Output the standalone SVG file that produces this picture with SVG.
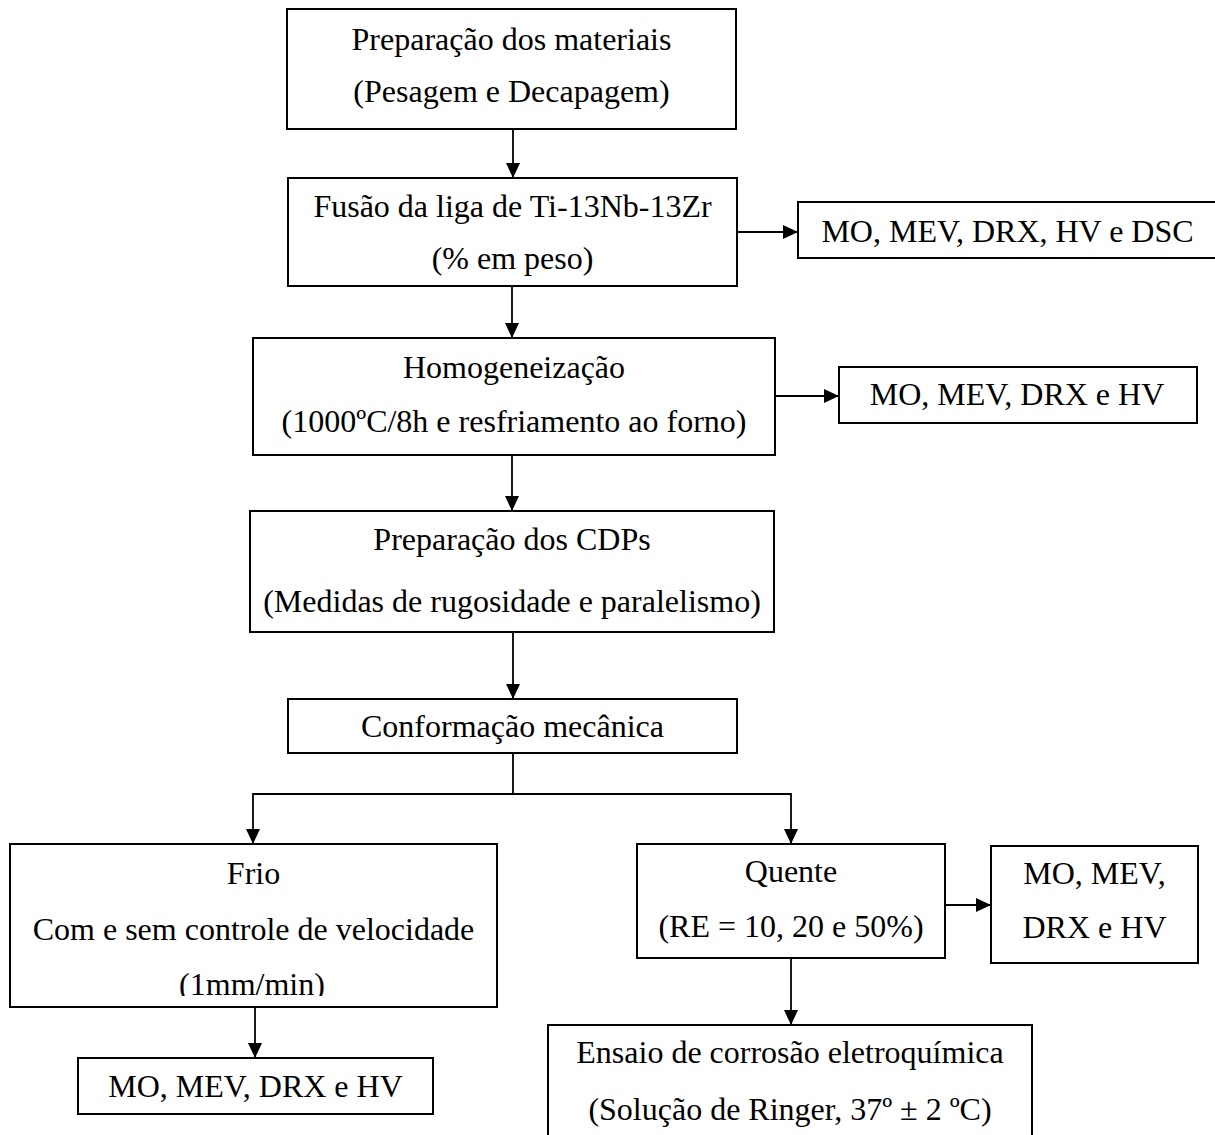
<svg xmlns="http://www.w3.org/2000/svg" width="1215" height="1135" viewBox="0 0 1215 1135">
<style>
  .box { fill: #fff; stroke: #000; stroke-width: 2; }
  .t { font-family: "Liberation Serif", "Times New Roman", serif; font-size: 32px; fill: #000; text-anchor: middle; }
  .c { fill: none; stroke: #000; stroke-width: 1.8; }
</style>
<defs>
  <marker id="ah" markerUnits="userSpaceOnUse" markerWidth="15" markerHeight="14" refX="15" refY="7" orient="auto">
    <path d="M0,0 L15,7 L0,14 z" fill="#000"/>
  </marker>
  <clipPath id="frioClip"><rect x="10" y="844" width="487" height="152"/></clipPath>
</defs>
<rect x="0" y="0" width="1215" height="1135" fill="#fff"/>

<g id="connectors">
  <line class="c" x1="513" y1="129" x2="513" y2="178" marker-end="url(#ah)"/>
  <line class="c" x1="512" y1="286" x2="512" y2="338" marker-end="url(#ah)"/>
  <line class="c" x1="512" y1="455" x2="512" y2="511" marker-end="url(#ah)"/>
  <line class="c" x1="513" y1="632" x2="513" y2="699" marker-end="url(#ah)"/>
  <line class="c" x1="737" y1="232" x2="798" y2="232" marker-end="url(#ah)"/>
  <line class="c" x1="775" y1="396" x2="839" y2="396" marker-end="url(#ah)"/>
  <polyline class="c" points="513,753 513,794"/>
  <polyline class="c" points="253,794 791,794"/>
  <line class="c" x1="253" y1="793.1" x2="253" y2="844" marker-end="url(#ah)"/>
  <line class="c" x1="791" y1="793.1" x2="791" y2="844" marker-end="url(#ah)"/>
  <line class="c" x1="255" y1="1007" x2="255" y2="1058" marker-end="url(#ah)"/>
  <line class="c" x1="945" y1="905" x2="991" y2="905" marker-end="url(#ah)"/>
  <line class="c" x1="791" y1="958" x2="791" y2="1025" marker-end="url(#ah)"/>
</g>

<g id="n1">
  <rect class="box" x="287" y="9" width="449" height="120"/>
  <text class="t" x="511.5" y="50">Preparação dos materiais</text>
  <text class="t" x="511.5" y="102">(Pesagem e Decapagem)</text>
</g>
<g id="n2">
  <rect class="box" x="288" y="178" width="449" height="108"/>
  <text class="t" x="512.5" y="217">Fusão da liga de Ti-13Nb-13Zr</text>
  <text class="t" x="512.5" y="269">(% em peso)</text>
</g>
<g id="n3">
  <rect class="box" x="798" y="202" width="420" height="56"/>
  <text class="t" x="1007.5" y="242">MO, MEV, DRX, HV e DSC</text>
</g>
<g id="n4">
  <rect class="box" x="253" y="338" width="522" height="117"/>
  <text class="t" x="514" y="378">Homogeneização</text>
  <text class="t" x="514" y="432">(1000ºC/8h e resfriamento ao forno)</text>
</g>
<g id="n5">
  <rect class="box" x="839" y="367" width="358" height="56"/>
  <text class="t" x="1017" y="405">MO, MEV, DRX e HV</text>
</g>
<g id="n6">
  <rect class="box" x="250" y="511" width="524" height="121"/>
  <text class="t" x="512" y="550">Preparação dos CDPs</text>
  <text class="t" x="512" y="612">(Medidas de rugosidade e paralelismo)</text>
</g>
<g id="n7">
  <rect class="box" x="288" y="699" width="449" height="54"/>
  <text class="t" x="512.5" y="737">Conformação mecânica</text>
</g>
<g id="n8">
  <rect class="box" x="10" y="844" width="487" height="163"/>
  <text class="t" x="253.5" y="884">Frio</text>
  <text class="t" x="253.5" y="940">Com e sem controle de velocidade</text>
  <text class="t" x="252" y="995" clip-path="url(#frioClip)">(1mm/min)</text>
</g>
<g id="n9">
  <rect class="box" x="78" y="1058" width="355" height="56"/>
  <text class="t" x="255.5" y="1097">MO, MEV, DRX e HV</text>
</g>
<g id="n10">
  <rect class="box" x="637" y="844" width="308" height="114"/>
  <text class="t" x="791" y="882">Quente</text>
  <text class="t" x="791" y="937">(RE = 10, 20 e 50%)</text>
</g>
<g id="n11">
  <rect class="box" x="991" y="846" width="207" height="117"/>
  <text class="t" x="1094.5" y="884">MO, MEV,</text>
  <text class="t" x="1094.5" y="938">DRX e HV</text>
</g>
<g id="n12">
  <rect class="box" x="548" y="1025" width="484" height="130"/>
  <text class="t" x="790" y="1063">Ensaio de corrosão eletroquímica</text>
  <text class="t" x="790" y="1120">(Solução de Ringer, 37º ± 2 ºC)</text>
</g>
</svg>
